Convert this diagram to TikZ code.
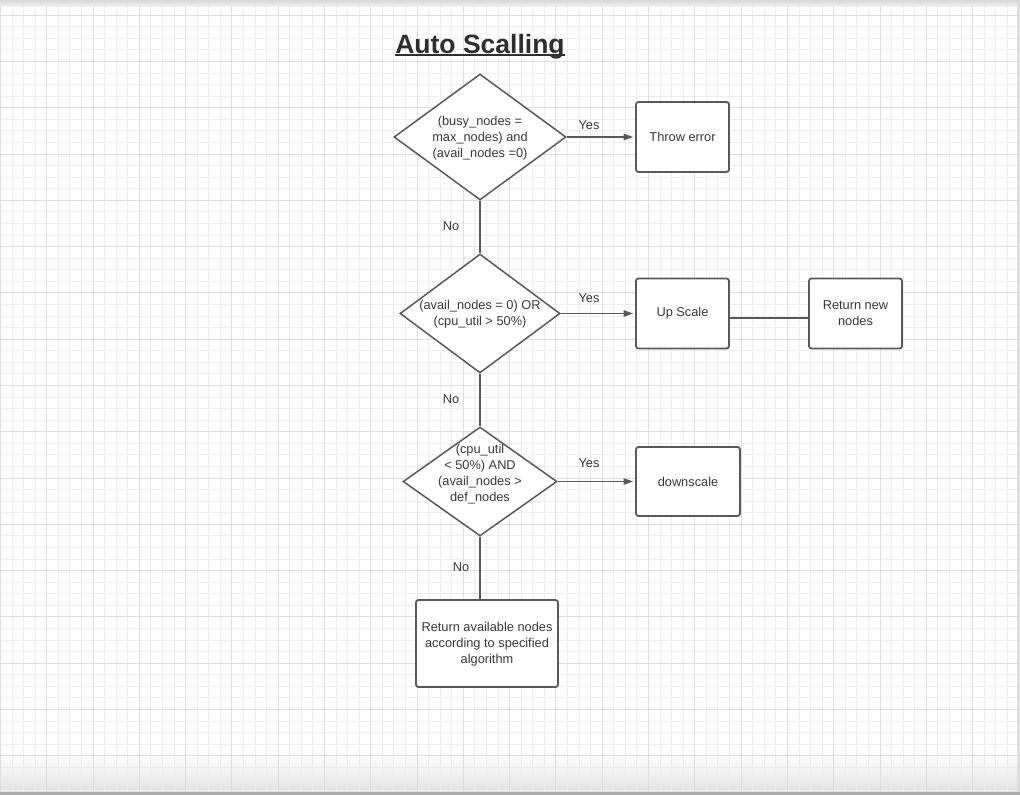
\documentclass[tikz,border=0pt]{standalone}
\usepackage{fontspec}
\setmainfont{Liberation Sans}
\usetikzlibrary{shapes.geometric,arrows.meta}
\definecolor{minorgrid}{HTML}{EDEDED}
\definecolor{majorgrid}{HTML}{DDDDDD}
\definecolor{linec}{HTML}{595959}
\definecolor{textc}{HTML}{383838}
\tikzset{
  decision/.style={diamond, draw=linec, line width=1.5pt, fill=white, inner sep=0pt, aspect=1},
  procbox/.style={rectangle, draw=linec, line width=1.8pt, fill=white, rounded corners=2.5pt, inner sep=0pt},
  txt/.style={text=textc, align=center, font=\fontsize{12.8}{15.9}\selectfont, inner sep=0pt},
  conn/.style={draw=linec, line width=1.6pt},
  arrowconn/.style={draw=linec, line width=1.1pt, shorten >=2pt, -{Triangle[length=9.5pt,width=6.5pt]}},
}
\begin{document}
\begin{tikzpicture}[x=1pt,y=-1pt]
\useasboundingbox (0,0) rectangle (1020,795);
\fill[white] (0,0) rectangle (1020,795);
% bottom fade
\shade[top color=white,bottom color=black!11] (0,752) rectangle (1020,792);
% grid (snapped to pixel centres)
\foreach \i in {0,...,88} {\pgfmathsetmacro\gx{round(\i*11.5725)+0.5}\draw[minorgrid,line width=1pt] (\gx,6) -- (\gx,792);}
\foreach \k in {0,...,67} {\pgfmathsetmacro\gy{round(14.7+\k*11.5725)+0.5}\draw[minorgrid,line width=1pt] (0,\gy) -- (1020,\gy);}
\foreach \i in {0,...,22} {\pgfmathsetmacro\gx{round(\i*46.29)+0.5}\draw[majorgrid,line width=1pt] (\gx,6) -- (\gx,792);}
\foreach \k in {0,...,16} {\pgfmathsetmacro\gy{round(14.7+\k*46.29)+0.5}\draw[majorgrid,line width=1pt] (0,\gy) -- (1020,\gy);}
% frame bands
\shade[top color=black!15,bottom color=black!6] (0,0) rectangle (1020,6);
\fill[black!13] (1017,0) rectangle (1020,795);
\fill[black!33] (0,792) rectangle (1020,795);

% title
\node[text=black!82, font=\fontsize{26.5}{30}\selectfont\bfseries, inner sep=0pt, anchor=base] (title) at (480,53) {Auto Scalling};
\draw[black!82, line width=2pt] ([yshift=-1.6pt]title.base west) -- ([yshift=-1.6pt]title.base east);

% decisions
\node[decision, minimum width=172pt, minimum height=126pt] (d1) at (480,137) {};
\node[txt] (d1t) at (480,138) {(busy\_nodes =\\max\_nodes) and\\(avail\_nodes =0)};
\node[decision, minimum width=160pt, minimum height=119pt] (d2) at (480,313.5) {};
\node[txt] (d2t) at (480,314) {(avail\_nodes = 0) OR\\(cpu\_util > 50\%)};
\node[decision, minimum width=154pt, minimum height=109pt] (d3) at (480,481.5) {};
\node[txt] (d3t) at (480,474) {(cpu\_util\\< 50\%) AND\\(avail\_nodes >\\def\_nodes};

% boxes
\node[procbox, minimum width=93pt, minimum height=70pt] (err) at (682.5,137) {};
\node[txt] (errt) at (err.center) {Throw error};
\node[procbox, minimum width=93pt, minimum height=70pt] (up) at (682.5,313.5) {};
\node[txt] (upt) at (up.center) {Up Scale};
\node[procbox, minimum width=93pt, minimum height=70pt] (ret) at (855.5,313.5) {};
\node[txt] (rett) at (855.5,313) {Return new\\nodes};
\node[procbox, minimum width=104pt, minimum height=69pt] (down) at (688,481.5) {};
\node[txt] (downt) at (down.center) {downscale};
\node[procbox, minimum width=142pt, minimum height=87pt] (avail) at (487,643.5) {};
\node[txt] (availt) at (487,644.5) {Return available nodes\\according to specified\\algorithm};

% connectors
\draw[arrowconn] (d1.east) -- (err.west);
\draw[arrowconn] (d2.east) -- (up.west);
\draw[arrowconn] (d3.east) -- (down.west);
\draw[conn] ([yshift=-4.2pt]up.east) -- ([yshift=-4.2pt]ret.west);
\draw[conn] (d1.south) -- (d2.north);
\draw[conn] (d2.south) -- (d3.north);
\draw[conn] (d3.south) -- (d3.south |- avail.north);

% labels
\node[txt] (y1) at (589,125) {Yes};
\node[txt] (y2) at (589,298.5) {Yes};
\node[txt] (y3) at (589,463.5) {Yes};
\node[txt] (n1) at (451,226.5) {No};
\node[txt] (n2) at (451,399.5) {No};
\node[txt] (n3) at (461,567.5) {No};
\end{tikzpicture}
\end{document}
